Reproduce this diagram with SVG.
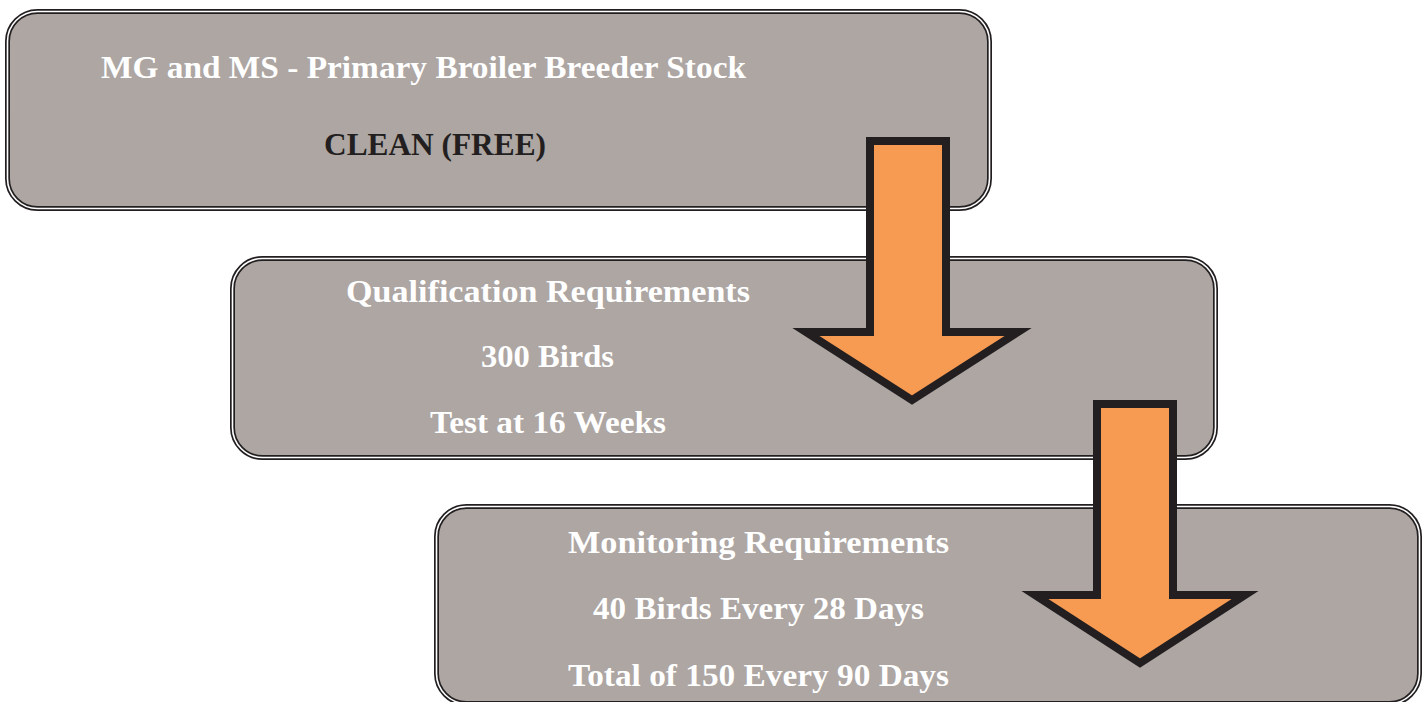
<svg xmlns="http://www.w3.org/2000/svg" width="1427" height="702" viewBox="0 0 1427 702">
<style>
.box-out{fill:#ada6a3;stroke:#231f20;stroke-width:5}
.box-in{fill:none;stroke:#ffffff;stroke-width:1.6}
.t{font-family:"Liberation Serif","DejaVu Serif",serif;font-weight:bold;font-size:31px;fill:#ffffff;text-anchor:middle}
.dark{fill:#231f20}
.arrow{fill:#f79a52;stroke:#231f20;stroke-width:8;stroke-linejoin:miter;stroke-miterlimit:10}
</style>
<rect width="1427" height="702" fill="#ffffff"/>
<g id="node-primary">
<rect class="box-out" x="7.5" y="11.5" width="982" height="197" rx="30"/>
<rect class="box-in" x="7.5" y="11.5" width="982" height="197" rx="30"/>
<text class="t" x="423.5" y="78" textLength="645" lengthAdjust="spacingAndGlyphs">MG and MS - Primary Broiler Breeder Stock</text>
<text class="t dark" x="435" y="155" textLength="222" lengthAdjust="spacingAndGlyphs">CLEAN (FREE)</text>
</g>
<g id="node-qualification">
<rect class="box-out" x="232.5" y="258.5" width="983" height="199" rx="30"/>
<rect class="box-in" x="232.5" y="258.5" width="983" height="199" rx="30"/>
<text class="t" x="548" y="302" textLength="404" lengthAdjust="spacingAndGlyphs">Qualification Requirements</text>
<text class="t" x="547.5" y="367" textLength="133" lengthAdjust="spacingAndGlyphs">300 Birds</text>
<text class="t" x="548" y="433" textLength="236" lengthAdjust="spacingAndGlyphs">Test at 16 Weeks</text>
</g>
<g id="node-monitoring">
<rect class="box-out" x="436.5" y="506.5" width="983" height="197" rx="30"/>
<rect class="box-in" x="436.5" y="506.5" width="983" height="197" rx="30"/>
<text class="t" x="758.5" y="553" textLength="381" lengthAdjust="spacingAndGlyphs">Monitoring Requirements</text>
<text class="t" x="758.5" y="619" textLength="331" lengthAdjust="spacingAndGlyphs">40 Birds Every 28 Days</text>
<text class="t" x="758.5" y="686" textLength="381" lengthAdjust="spacingAndGlyphs">Total of 150 Every 90 Days</text>
</g>
<g id="connectors">
<polygon class="arrow" points="870,141 946,141 946,332 1018,332 912,400 806,332 870,332"/>
<polygon class="arrow" points="1097,404 1173,404 1173,595 1245,595 1140,663 1035,595 1097,595"/>
</g>
</svg>
